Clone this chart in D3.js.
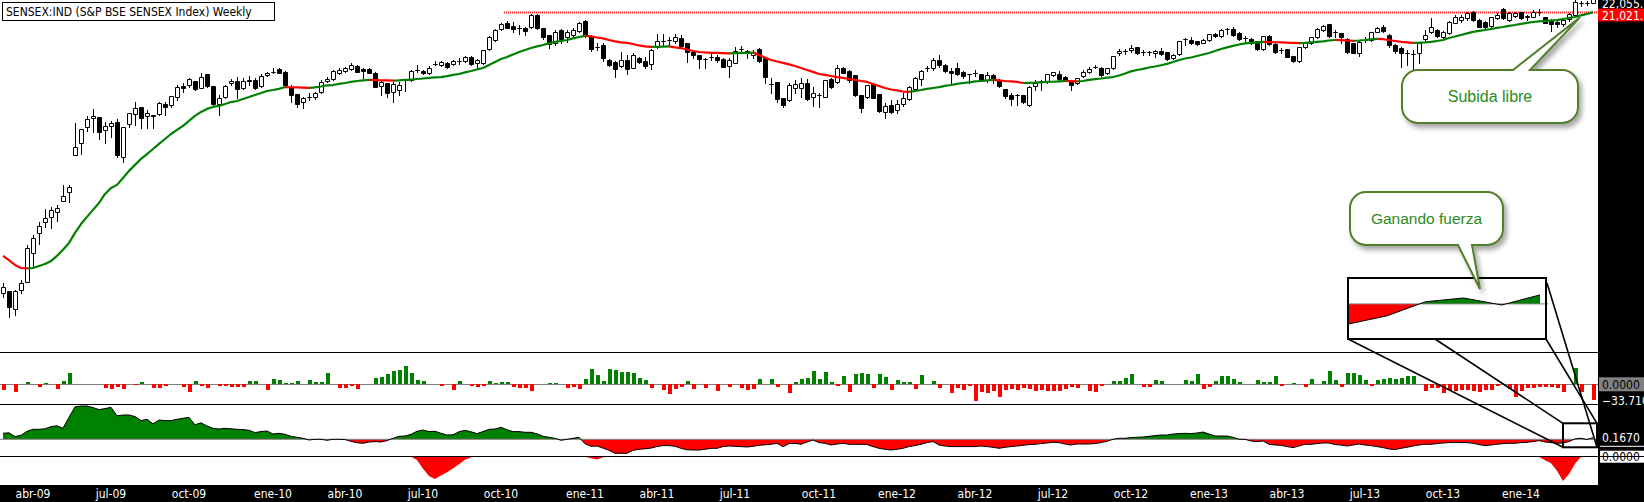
<!DOCTYPE html>
<html>
<head>
<meta charset="utf-8">
<script src="https://cdn.jsdelivr.net/npm/d3@7"></script>
<style>
  html, body { margin: 0; padding: 0; background: #fff; }
  svg { display: block; }
  .lbl { font-family: "DejaVu Sans Condensed", "DejaVu Sans", sans-serif; font-size: 12px; }
  .note { font-family: "Liberation Sans", Arial, sans-serif; }
</style>
</head>
<body>
<svg id="chart" width="1644" height="502"></svg>
<script>
// Weekly bars, index 0 = first week on the chart (late Feb 2009)
const openP = [
  8350, 8400, 7920, 8430, 8660, 9520, 10170, 10540, 10720, 10900,
  11300, 11640, 13140, 13670, 14410, 14840, 14890, 14270, 14460, 14650,
  13060, 14550, 15040, 15390, 14940, 14990, 15040, 15540, 15490, 15900,
  16490, 16540, 16760, 16380, 17150, 16490, 15540, 15900, 16650, 16760,
  16380, 16820, 16820, 16490, 17100, 17270, 17440, 17270, 16430, 16060,
  15640, 15900, 15900, 16170, 16760, 16870, 17210, 17320, 17440, 17610,
  17440, 17440, 17210, 16490, 16650, 16170, 16270, 16820, 16820, 17380,
  17320, 17210, 17730, 17670, 17790, 17730, 17900, 17900, 18140, 17790,
  17790, 18620, 19180, 19890, 20290, 20090, 19960, 19960, 20020, 20830,
  19960, 19500, 19000, 19820, 19370, 19500, 19760, 20420, 19440, 18750,
  18870, 17960, 17840, 17610, 17960, 17490, 18080, 17900, 17730, 18750,
  19120, 19180, 19120, 19310, 19000, 18440, 18260, 18020, 18140, 18140,
  18020, 17610, 17790, 18620, 18500, 18260, 18620, 18080, 16600, 16710,
  15850, 15750, 16380, 16380, 16650, 15900, 16010, 15900, 16870, 16710,
  17490, 17320, 17100, 16010, 15900, 16600, 16060, 15140, 15490, 15240,
  15540, 15800, 16330, 16870, 17490, 17490, 17960, 17670, 17320, 17490,
  17270, 17150, 17210, 17150, 16820, 17100, 16820, 16330, 16010, 16010,
  16010, 15490, 16490, 16760, 16760, 17100, 17150, 16980, 16760, 16650,
  17040, 17270, 17550, 17490, 17210, 17490, 18380, 18500, 18560, 18750,
  18440, 18440, 18380, 18500, 18440, 18080, 18320, 19250, 19180, 19120,
  19000, 19180, 19570, 19440, 19890, 19890, 19630, 19310, 19250, 19120,
  18620, 19440, 18930, 18560, 18620, 18200, 17900, 18750, 19000, 19370,
  19820, 20220, 19700, 19630, 19250, 19000, 18380, 19180, 19180, 19700,
  20020, 19500, 18870, 18680, 18380, 18320, 18380, 19250, 19700, 19820,
  19370, 19630, 20290, 20480, 20620, 21030, 20480, 20350, 20090, 20620,
  21240, 20480, 20760, 21030, 20690, 20690, 21030, 20690, 20480, 20350,
  20220, 20550, 20830, 21670, 21670, 21670
];
const highP = [
  8630, 8400, 8430, 8710, 9780, 10100, 10540, 11000, 11080, 11150,
  11910, 11910, 14600, 14320, 14940, 15290, 14900, 14650, 14700, 14790,
  14420, 15100, 15640, 15400, 15240, 15000, 15640, 15640, 15970, 16540,
  16650, 16930, 16770, 17210, 17160, 16500, 16010, 16540, 16870, 16980,
  16930, 17040, 16930, 17150, 17270, 17490, 17490, 17320, 16540, 16070,
  15900, 16110, 16170, 16820, 16980, 17380, 17490, 17550, 17790, 17670,
  17490, 17490, 17270, 16820, 16660, 16710, 16710, 16830, 17380, 17670,
  17380, 17610, 17900, 17900, 17840, 17960, 18080, 18200, 18200, 18020,
  18570, 19440, 19890, 20290, 20420, 20350, 20150, 20020, 20900, 20900,
  19970, 19510, 19820, 19890, 19820, 19960, 20350, 20480, 19500, 19000,
  19000, 18020, 17900, 18440, 18260, 18380, 18140, 18140, 18620, 19570,
  19570, 19370, 19570, 19500, 19010, 18450, 18270, 18080, 18380, 18260,
  18080, 18080, 18750, 18810, 18560, 18560, 18680, 18140, 16930, 16720,
  15860, 16650, 16820, 16930, 16870, 16430, 16110, 16830, 16930, 17670,
  17550, 17380, 17110, 16020, 16550, 16650, 16070, 15590, 15750, 15750,
  16110, 16490, 16980, 17380, 17610, 18080, 18260, 17730, 17490, 17790,
  17320, 17160, 17380, 17160, 17270, 17150, 16870, 16340, 16110, 16060,
  16020, 16490, 16820, 16820, 17160, 17280, 17320, 17040, 16770, 16940,
  17380, 17550, 17670, 17550, 17500, 18210, 18620, 18620, 18870, 18760,
  18560, 18500, 18560, 18680, 18450, 18320, 19130, 19310, 19370, 19130,
  19250, 19580, 19630, 19890, 19960, 20020, 19700, 19440, 19310, 19130,
  19450, 19500, 19000, 18680, 18630, 18210, 18760, 19070, 19380, 19960,
  20150, 20230, 19820, 19640, 19310, 19010, 19180, 19370, 19710, 20020,
  20150, 19570, 18930, 18750, 18560, 18560, 19060, 19820, 20620, 19890,
  19760, 20420, 20830, 20830, 21030, 21100, 20550, 20420, 20700, 20960,
  21310, 21030, 21030, 21040, 20830, 21170, 21240, 20700, 20550, 20420,
  20550, 20960, 21880, 21810, 21810, 22100
];
const lowP = [
  8240, 7720, 7770, 8350, 8650, 9090, 9810, 10370, 10340, 10580,
  11290, 11260, 13130, 13180, 14220, 14170, 13850, 13670, 13940, 13060,
  12840, 14410, 14500, 14360, 14360, 14360, 14990, 14990, 15390, 15750,
  16170, 16430, 16270, 16370, 16430, 15490, 14990, 15850, 16540, 15850,
  16330, 16540, 16330, 16430, 17040, 17210, 17200, 16490, 15640, 15390,
  15340, 15750, 15800, 16110, 16710, 16820, 17150, 17270, 17380, 17260,
  16930, 17200, 16420, 16010, 15900, 15640, 16010, 16220, 16760, 17270,
  17150, 17150, 17670, 17610, 17490, 17670, 17730, 17840, 17670, 17490,
  17730, 18560, 19120, 19820, 19950, 19700, 19570, 19500, 19960, 19890,
  19250, 18680, 18870, 19000, 19060, 19440, 19700, 19370, 18500, 18560,
  17900, 17610, 16980, 17550, 17150, 17480, 17790, 17490, 17440, 18680,
  18870, 18870, 19000, 18750, 17840, 18080, 17490, 17490, 17960, 17840,
  17540, 16980, 17780, 18380, 18080, 18080, 17840, 16650, 16110, 15640,
  15390, 15690, 16110, 15900, 15750, 15440, 15390, 15890, 16380, 16650,
  17200, 16710, 15960, 15140, 15850, 15840, 15140, 14840, 15090, 15090,
  15440, 15750, 16270, 16540, 17320, 17380, 17550, 17270, 16650, 17100,
  16930, 16650, 17040, 16760, 16710, 16650, 16430, 15850, 15490, 15490,
  15590, 15440, 16270, 16270, 16650, 17040, 16820, 16760, 16270, 16600,
  16980, 17210, 17490, 17040, 17150, 17440, 18260, 18320, 18440, 18320,
  18260, 18260, 18140, 18260, 17960, 18020, 18260, 18870, 18930, 18870,
  18990, 19120, 19370, 19370, 19570, 19440, 19180, 19120, 18930, 18560,
  18560, 18870, 18380, 18380, 18130, 17840, 17840, 18680, 18930, 19310,
  19760, 19370, 19370, 19000, 18380, 18370, 18200, 19060, 19120, 19690,
  19700, 18750, 18380, 17550, 17670, 17270, 17790, 19060, 19630, 19370,
  19310, 19570, 20280, 20350, 20480, 20420, 20010, 19960, 20020, 20550,
  20550, 20420, 20690, 20550, 20480, 20680, 20830, 20280, 19760, 20020,
  20090, 20420, 20760, 21450, 21530, 21660
];
const closeP = [
  8520, 7970, 8400, 8630, 9680, 10000, 10410, 10680, 10970, 11040,
  11480, 11830, 13490, 14310, 14790, 14940, 14170, 14460, 14600, 13140,
  14410, 15090, 15340, 14840, 15090, 14940, 15590, 15390, 15960, 16430,
  16380, 16870, 16330, 16980, 16490, 15540, 15850, 16490, 16760, 16330,
  16760, 16760, 16380, 17040, 17210, 17280, 17210, 16540, 16010, 15540,
  15850, 15910, 16110, 16710, 16870, 17320, 17380, 17490, 17670, 17270,
  17320, 17210, 16430, 16710, 16110, 16600, 16540, 16830, 17320, 17390,
  17210, 17490, 17740, 17840, 17550, 17900, 17890, 18140, 17730, 17960,
  18560, 19370, 19820, 20220, 19960, 19890, 19950, 19760, 20830, 19960,
  19370, 18930, 19700, 19250, 19700, 19820, 20290, 19440, 18620, 18740,
  18080, 17670, 17440, 17960, 17440, 18260, 17840, 17610, 18560, 19120,
  19110, 19190, 19370, 18810, 18440, 18260, 18020, 18010, 18150, 17960,
  17550, 17960, 18500, 18630, 18380, 18440, 17900, 16980, 16590, 15800,
  15490, 16540, 16600, 16650, 15800, 16110, 16000, 16820, 16430, 17490,
  17210, 16820, 16010, 15340, 16540, 15850, 15190, 15440, 15140, 15540,
  15850, 16430, 16930, 17320, 17500, 17960, 17670, 17320, 17210, 17150,
  17040, 17140, 17200, 16820, 17100, 16820, 16490, 15960, 15800, 16000,
  15640, 16430, 16650, 16770, 17150, 17270, 16870, 16820, 16540, 16930,
  17270, 17440, 17560, 17100, 17490, 18200, 18500, 18510, 18680, 18380,
  18450, 18430, 18500, 18320, 18020, 18260, 19120, 19260, 19000, 18930,
  19180, 19570, 19440, 19820, 19880, 19500, 19250, 19300, 19000, 18620,
  19440, 18930, 18440, 18550, 18140, 17900, 18750, 19060, 19370, 19890,
  20090, 19440, 19690, 19370, 18440, 18380, 19060, 19170, 19700, 19960,
  19760, 18870, 18500, 18380, 18370, 18330, 19000, 19500, 20020, 19440,
  19700, 20350, 20690, 20690, 20960, 20480, 20020, 20020, 20690, 20830,
  20620, 20960, 20960, 20620, 20760, 21030, 21040, 20290, 20220, 20220,
  20480, 20900, 21740, 21680, 21660, 22055
];
// moving average drawn over the candles
const maLine = [
  9430, 9300, 9150, 9060, 9050, 9060, 9120, 9180, 9270, 9430,
  9620, 9840, 10170, 10470, 10720, 10970, 11220, 11560, 11790, 11910,
  12180, 12470, 12720, 12970, 13180, 13400, 13630, 13850, 14080, 14270,
  14460, 14700, 14940, 15140, 15290, 15390, 15440, 15540, 15640, 15690,
  15800, 15900, 16010, 16110, 16220, 16270, 16330, 16430, 16420, 16410,
  16400, 16390, 16410, 16460, 16520, 16540, 16600, 16650, 16710, 16760,
  16790, 16820, 16810, 16800, 16790, 16780, 16790, 16820, 16840, 16870,
  16900, 16930, 16960, 16980, 17030, 17100, 17150, 17240, 17320, 17410,
  17490, 17670, 17840, 18020, 18140, 18290, 18440, 18560, 18680, 18780,
  18870, 18970, 19060, 19120, 19180, 19280, 19370, 19440, 19410, 19340,
  19280, 19180, 19090, 19030, 19000, 18930, 18840, 18780, 18750, 18760,
  18770, 18780, 18720, 18680, 18590, 18500, 18440, 18410, 18390, 18380,
  18370, 18360, 18370, 18380, 18390, 18400, 18260, 18110, 17960, 17870,
  17790, 17700, 17610, 17490, 17380, 17270, 17150, 17100, 17040, 16980,
  16930, 16870, 16820, 16760, 16710, 16600, 16490, 16380, 16300, 16250,
  16190, 16170, 16220, 16270, 16330, 16380, 16430, 16490, 16540, 16600,
  16650, 16680, 16740, 16760, 16790, 16820, 16790, 16760, 16740, 16710,
  16650, 16660, 16670, 16690, 16710, 16720, 16740, 16760, 16750, 16740,
  16760, 16820, 16860, 16900, 16950, 16980, 17070, 17180, 17300, 17380,
  17440, 17520, 17580, 17650, 17730, 17840, 17960, 18050, 18110, 18200,
  18290, 18380, 18500, 18620, 18720, 18810, 18900, 18970, 19000, 19030,
  19060, 19050, 19040, 19030, 19010, 19000, 18990, 19000, 19030, 19060,
  19090, 19150, 19180, 19170, 19150, 19130, 19150, 19180, 19220, 19250,
  19230, 19180, 19120, 19060, 19030, 19000, 19010, 19030, 19060, 19120,
  19180, 19310, 19400, 19500, 19600, 19700, 19760, 19820, 19890, 19960,
  20020, 20090, 20150, 20220, 20290, 20350, 20390, 20420, 20450, 20480,
  20550, 20620, 20690, 20800, 20900, 21021
];
// histogram oscillator (second panel)
const histVals = [
  -11.9, 0, -15.5, 0, 5.6, 0, -4.9, 3.5, 0, -9.8,
  7.7, 24.6, 0, 0, 0, 0, 0, -8.4, -9.8, -4.9,
  -9.8, 0, -2.1, 5.6, 0, -7, -7, -2.8, 0, 0,
  -4.9, -15.5, 7, -2.8, -7, 0, -2.8, -3.5, -6.3, -4.9,
  -4.9, 7, 7, 0, -11.9, 11.2, 9.1, 3.5, 3.5, 7,
  0, 9.1, 4.9, 4.9, 24.6, 0, -8.4, -7, -2.8, -9.8,
  0, 0, 12.6, 16.2, 21.8, 28.1, 30.2, 39.3, 24.6, 9.1,
  7, 0, 0, -2.8, 0, -11.9, 7, 0, -2.8, -4.9,
  -2.8, 7, 3.5, 4.9, 4.9, -4.9, -7, -7, -14, 0,
  0, 3.5, 3.5, 0, -7, -4.9, -9.8, 11.2, 32.3, 19.7,
  7, 32.3, 30.2, 26.7, 26.7, 23.2, 14, 9.1, -7, 0,
  -11.9, -19.7, -9.8, -4.9, 7, -9.8, 0, -7, 0, -14,
  0, -4.9, 0, -7, -11.9, -9.8, 11.2, 0, 11.2, -4.9,
  0, -17.6, 5.6, 11.2, 14, 28.8, 11.2, 26.7, 5.6, -2.8,
  17.6, -15.5, 22.5, 23.9, 22.5, -7, 22.5, 15.5, -11.9, 9.1,
  5.6, 4.9, -9.8, 19.7, 0, 7, -7, 0, -17.6, -7,
  -11.9, -2.8, -35.1, -15.5, -17.6, -13.3, -26, -11.9, -9.8, -11.9,
  -8.4, -9.8, -14, -11.9, -14, -14, -14, -9.8, -4.9, -7,
  0, -14, -15.5, -2.8, 0, 7, 7, 12.6, 21.8, 0,
  -4.9, -4.9, 9.1, 7, 0, 0, 0, 9.1, 7, 21.8,
  -9.8, -4.9, 7, 17.6, 17.6, 11.2, 4.9, 0, 0, 9.1,
  4.9, 4.9, 17.6, -2.8, 0, 3.5, 0, -4.9, 11.2, 0,
  7, 28.1, 9.1, -4.9, 24.6, 23.2, 19.7, 9.1, -2.8, 9.1,
  11.2, 12.6, 11.2, 14, 17.6, 17.6, 0, -14, -7, -7,
  -17.6, -11.9, -14, -11.9, -11.9, -14, -16.9, -11.9, -11.9, -2.8,
  0, -9.8, -26, -14, -8.4, -7, -4.9, -6.3, -4.9, -7,
  -15.5, 0, 33.7, -15.5, 0, -33.71
];
// strength oscillator (third panel, filled)
const strengthVals = [
  0.6, 0.65, 0.27, 0.4, 0.8, 1.0, 1.0, 1.05, 1.27, 1.35,
  1.1, 2.2, 3.25, 3.33, 3.33, 3.17, 2.97, 3.07, 3.2, 2.35,
  2.43, 2.43, 2.27, 1.87, 2.0, 1.55, 1.93, 1.87, 1.87, 2.0,
  2.1, 2.2, 1.45, 1.65, 1.33, 1.1, 1.03, 1.1, 1.05, 1.0,
  0.97, 0.9, 0.67, 0.77, 0.83, 0.53, 0.6, 0.5, 0.3, 0.2,
  0.1, -0.07, 0, 0, -0.1, 0, 0, -0.03, -0.2, -0.35,
  -0.4, -0.27, -0.23, -0.27, -0.13, 0.1, 0.3, 0.33, 0.5, 0.8,
  0.93, 0.77, 0.8, 0.6, 0.43, 0.45, 0.75, 0.9, 0.75, 0.57,
  0.77, 1.0, 1.03, 1.2, 0.95, 0.77, 0.77, 0.7, 0.7, 0.55,
  0.3, 0.2, 0.1, -0.1, 0, 0.1, 0.2, -0.45, -0.7, -0.67,
  -0.88, -1.1, -1.4, -1.4, -1.4, -1.1, -1.0, -0.95, -0.88, -0.73,
  -0.63, -0.63, -0.7, -0.9, -1.05, -1.07, -1.07, -1.0, -0.9, -0.9,
  -0.73, -0.67, -0.7, -0.73, -0.77, -0.7, -0.6, -0.55, -0.5, -0.4,
  -0.75, -0.42, -0.4, -0.5, -0.27, -0.07, -0.33, -0.4, -0.57, -0.47,
  -0.4, -0.5, -0.5, -0.5, -0.53, -0.73, -0.9, -1.0, -1.07, -1.0,
  -0.9, -0.73, -0.63, -0.5, -0.33, -0.23, -0.57, -0.67, -0.73, -0.73,
  -0.73, -0.73, -0.73, -0.67, -0.73, -0.8, -0.9, -0.8, -0.73, -0.67,
  -0.6, -0.53, -0.5, -0.43, -0.37, -0.3, -0.33, -0.47, -0.57, -0.47,
  -0.47, -0.47, -0.43, -0.33, -0.2, 0, 0.1, 0.1, 0.17, 0.2,
  0.23, 0.3, 0.37, 0.43, 0.43, 0.53, 0.57, 0.6, 0.57, 0.63,
  0.73, 0.53, 0.33, 0.33, 0.33, 0.2, 0, 0, -0.17, -0.23,
  -0.17, -0.5, -0.57, -0.6, -0.73, -0.83, -0.67, -0.5, -0.5, -0.43,
  -0.37, -0.37, -0.53, -0.57, -0.67, -0.57, -0.47, -0.57, -0.63, -0.73,
  -0.83, -0.97, -1.03, -0.9, -0.8, -0.67, -0.57, -0.5, -0.5, -0.43,
  -0.37, -0.33, -0.3, -0.33, -0.33, -0.4, -0.53, -0.63, -0.57, -0.5,
  -0.43, -0.4, -0.4, -0.33, -0.3, -0.23, -0.13, -0.27, -0.33, -0.4,
  -0.37, -0.22, 0.04, 0.11, -0.02, 0.167
];
// bottom panel: only the weeks where it leaves zero
const breakPts = [
  [68, 0], [69, -3.3], [70, -12], [71, -19], [72, -22], [73, -18.5], [74, -15.5],
  [75, -11.7], [76, -7.5], [77, -3], [78, -0.5], [79, 0],
  [97, 0], [98, -1.5], [99, -2.7], [100, -0.5], [101, 0],
  [256, 0], [257, -3.5], [258, -6.5], [259, -14], [260, -24], [261, -17], [262, -7], [263, 0]
];
const tickLabels = ["abr-09", "jul-09", "oct-09", "ene-10", "abr-10", "jul-10", "oct-10", "ene-11",
  "abr-11", "jul-11", "oct-11", "ene-12", "abr-12", "jul-12", "oct-12", "ene-13", "abr-13",
  "jul-13", "oct-13", "ene-14"];
const tickBars = [5, 18, 31, 45, 57, 70, 83, 97, 109, 122, 136, 149, 162, 175, 188, 201, 214, 227, 240, 253];
const resistance = 21000;
const resistanceFrom = 84;
const insetFrom = 260;

const W = 1644, H = 502;
const plotRight = 1598;
const n = closeP.length;

const svg = d3.select('#chart');

// scales
const x = d3.scaleLinear().domain([0, n - 1]).range([3, 3 + 6 * (n - 1)]);
const yPrice = d3.scaleLog().domain([6873, 21878]).range([352, 0]);
const yHist = d3.scaleLinear().domain([-41.5, 68]).range([404, 352]);
const yStr = d3.scaleLinear().domain([-1.67, 3.53]).range([456, 404]);
const yBrk = d3.scaleLinear().domain([-28, 0.7]).range([485, 456]);

const breakVals = new Array(n).fill(0);
breakPts.forEach(([i, v]) => { breakVals[i] = v; });

const GREEN = '#008000', RED = '#ff0000';

const defs = svg.append('defs');
defs.append('clipPath').attr('id', 'clipMain')
  .append('rect').attr('x', 0).attr('y', 0).attr('width', plotRight).attr('height', 352);
defs.append('clipPath').attr('id', 'clipStrUp')
  .append('rect').attr('x', 0).attr('y', 404).attr('width', plotRight).attr('height', yStr(0) - 404);
defs.append('clipPath').attr('id', 'clipStrDn')
  .append('rect').attr('x', 0).attr('y', yStr(0)).attr('width', plotRight).attr('height', 456 - yStr(0));
const shadow = defs.append('filter').attr('id', 'shadow')
  .attr('x', '-20%').attr('y', '-20%').attr('width', '150%').attr('height', '150%');
shadow.append('feDropShadow').attr('dx', 3).attr('dy', 4).attr('stdDeviation', 2.5)
  .attr('flood-color', '#000').attr('flood-opacity', 0.35);

svg.append('rect').attr('width', W).attr('height', H).attr('fill', '#fff');

// ---- price panel ----
const main = svg.append('g').attr('clip-path', 'url(#clipMain)');

main.append('line')
  .attr('x1', x(resistanceFrom) - 3).attr('x2', plotRight)
  .attr('y1', yPrice(resistance)).attr('y2', yPrice(resistance))
  .attr('stroke', RED).attr('stroke-width', 2).attr('stroke-dasharray', '1 1').attr('opacity', 0.85);

const candles = main.append('g');
d3.range(n).forEach(i => {
  const cx = Math.round(x(i));
  candles.append('line')
    .attr('x1', cx + 0.5).attr('x2', cx + 0.5)
    .attr('y1', Math.round(yPrice(highP[i]))).attr('y2', Math.round(yPrice(lowP[i])) + 1)
    .attr('stroke', '#000').attr('stroke-width', 1);
  const yo = Math.round(yPrice(openP[i])), yc = Math.round(yPrice(closeP[i]));
  const top = Math.min(yo, yc) + 0.5, h = Math.abs(yo - yc);
  candles.append('path')
    .attr('d', `M${cx - 1.5},${top}h4v${h}h-4Z`)
    .attr('fill', closeP[i] >= openP[i] ? '#fff' : '#000')
    .attr('stroke', '#000').attr('stroke-width', 1);
});

// moving average, green while rising, red while falling
const maRuns = [];
for (let i = 1; i < n; i++) {
  const up = maLine[i] >= maLine[i - 1];
  const last = maRuns[maRuns.length - 1];
  if (last && last.up === up) last.pts.push(i);
  else maRuns.push({ up: up, pts: [i - 1, i] });
}
const maPath = d3.line().x(i => x(i)).y(i => yPrice(maLine[i]));
main.append('g').selectAll('path').data(maRuns).join('path')
  .attr('d', d => maPath(d.pts))
  .attr('fill', 'none')
  .attr('stroke', d => d.up ? GREEN : RED)
  .attr('stroke-width', 2.2)
  .attr('stroke-linejoin', 'round');

// ---- histogram panel ----
svg.append('line').attr('x1', 0).attr('x2', plotRight)
  .attr('y1', Math.round(yHist(0)) + 0.5).attr('y2', Math.round(yHist(0)) + 0.5)
  .attr('stroke', '#808080');
svg.append('g').selectAll('rect').data(histVals.map((v, i) => ({ v, i })).filter(d => d.v !== 0))
  .join('rect')
  .attr('x', d => Math.round(x(d.i)) - 1.5)
  .attr('width', 4)
  .attr('y', d => Math.min(yHist(d.v), yHist(0)))
  .attr('height', d => Math.abs(yHist(d.v) - yHist(0)))
  .attr('fill', d => d.v > 0 ? GREEN : RED)
  .attr('shape-rendering', 'crispEdges');

// ---- strength panel ----
const strArea = d3.area().x((d, i) => x(i)).y0(yStr(0)).y1(d => yStr(d));
svg.append('path').datum(strengthVals).attr('d', strArea)
  .attr('fill', GREEN).attr('clip-path', 'url(#clipStrUp)');
svg.append('path').datum(strengthVals).attr('d', strArea)
  .attr('fill', RED).attr('clip-path', 'url(#clipStrDn)');
svg.append('line').attr('x1', 0).attr('x2', plotRight)
  .attr('y1', yStr(0)).attr('y2', yStr(0)).attr('stroke', '#808080');
svg.append('path').datum(strengthVals)
  .attr('d', d3.line().x((d, i) => x(i)).y(d => yStr(d)))
  .attr('fill', 'none').attr('stroke', '#000').attr('stroke-width', 1);

// ---- bottom panel ----
svg.append('path').datum(breakVals)
  .attr('d', d3.area().x((d, i) => x(i)).y0(yBrk(0)).y1(d => yBrk(d)))
  .attr('fill', RED);

// panel separators
[352, 404, 456].forEach(y => {
  svg.append('line').attr('x1', 0).attr('x2', plotRight)
    .attr('y1', y + 0.5).attr('y2', y + 0.5).attr('stroke', '#000');
});

// ---- zoom box and callouts ----
const small = { x0: x(insetFrom), x1: x(n - 1) + 4, y0: yStr(0) - 16, y1: yStr(0) + 8 };
const inset = { x0: 1348, x1: 1546, y0: 278, y1: 339 };

const links = [
  [inset.x0, inset.y1, small.x0, small.y1],
  [1435, inset.y1, small.x0, small.y0],
  [inset.x1, inset.y1, small.x1, small.y0],
  [inset.x1 + 1, inset.y0 + 5, small.x1, small.y1]
];
svg.append('g').selectAll('line').data(links).join('line')
  .attr('x1', d => d[0]).attr('y1', d => d[1]).attr('x2', d => d[2]).attr('y2', d => d[3])
  .attr('stroke', '#000').attr('stroke-width', 1.6);

svg.append('rect')
  .attr('x', small.x0).attr('y', small.y0)
  .attr('width', small.x1 - small.x0).attr('height', small.y1 - small.y0)
  .attr('fill', 'none').attr('stroke', '#000').attr('stroke-width', 2);

// magnified view of the last weeks of the strength oscillator
const insetX = d3.scaleLinear().domain([insetFrom, n - 1]).range([inset.x0 + 1, inset.x1 - 6]);
const insetY = d3.scaleLinear().domain([-0.65, 0.48]).range([inset.y1, inset.y0]);
const insetData = strengthVals.slice(insetFrom).map((v, k) => ({ i: insetFrom + k, v }));
defs.append('clipPath').attr('id', 'clipInUp').append('rect')
  .attr('x', inset.x0).attr('y', inset.y0).attr('width', inset.x1 - inset.x0).attr('height', insetY(0) - inset.y0);
defs.append('clipPath').attr('id', 'clipInDn').append('rect')
  .attr('x', inset.x0).attr('y', insetY(0)).attr('width', inset.x1 - inset.x0).attr('height', inset.y1 - insetY(0));
svg.append('rect')
  .attr('x', inset.x0).attr('y', inset.y0)
  .attr('width', inset.x1 - inset.x0).attr('height', inset.y1 - inset.y0)
  .attr('fill', '#fff');
const inArea = d3.area().x(d => insetX(d.i)).y0(insetY(0)).y1(d => insetY(d.v));
svg.append('path').datum(insetData).attr('d', inArea).attr('fill', GREEN).attr('clip-path', 'url(#clipInUp)');
svg.append('path').datum(insetData).attr('d', inArea).attr('fill', RED).attr('clip-path', 'url(#clipInDn)');
svg.append('line').attr('x1', inset.x0).attr('x2', inset.x1 + 2)
  .attr('y1', insetY(0)).attr('y2', insetY(0)).attr('stroke', '#808080');
svg.append('path').datum(insetData)
  .attr('d', d3.line().x(d => insetX(d.i)).y(d => insetY(d.v)))
  .attr('fill', 'none').attr('stroke', '#000').attr('stroke-width', 1);
svg.append('rect')
  .attr('x', inset.x0).attr('y', inset.y0)
  .attr('width', inset.x1 - inset.x0).attr('height', inset.y1 - inset.y0)
  .attr('fill', 'none').attr('stroke', '#000').attr('stroke-width', 2);

function bubble(b) {
  const r = 16, { x0, y0, x1, y1 } = b;
  let p = `M${x0 + r},${y0}`;
  if (b.tailTop) p += `L${b.tailTop[0]},${y0}L${b.tip[0]},${b.tip[1]}L${b.tailTop[1]},${y0}`;
  p += `L${x1 - r},${y0}A${r},${r} 0 0 1 ${x1},${y0 + r}L${x1},${y1 - r}A${r},${r} 0 0 1 ${x1 - r},${y1}`;
  if (b.tailBottom) p += `L${b.tailBottom[0]},${y1}L${b.tip[0]},${b.tip[1]}L${b.tailBottom[1]},${y1}`;
  p += `L${x0 + r},${y1}A${r},${r} 0 0 1 ${x0},${y1 - r}L${x0},${y0 + r}A${r},${r} 0 0 1 ${x0 + r},${y0}Z`;
  svg.append('path').attr('d', p)
    .attr('fill', '#fff').attr('stroke', '#527f2a').attr('stroke-width', 2)
    .attr('filter', 'url(#shadow)');
  svg.append('text').attr('class', 'note')
    .attr('x', (x0 + x1) / 2).attr('y', (y0 + y1) / 2 + 5.5)
    .attr('text-anchor', 'middle').attr('font-size', b.size)
    .attr('fill', '#2a8a24').text(b.text);
}
bubble({ x0: 1402, y0: 70, x1: 1578, y1: 123, tailTop: [1513, 1530],
  tip: [x(n - 3) - 1, yPrice(maLine[n - 3]) + 2], text: 'Subida libre', size: 16 });
bubble({ x0: 1350, y0: 192, x1: 1503, y1: 245, tailBottom: [1472, 1458],
  tip: [1480, 289], text: 'Ganando fuerza', size: 15.5 });

// ---- frame: right value axis and bottom date axis ----
svg.append('rect').attr('x', plotRight).attr('y', 0).attr('width', W - plotRight).attr('height', H).attr('fill', '#000');
svg.append('rect').attr('x', 0).attr('y', 485).attr('width', W).attr('height', H - 485).attr('fill', '#000');

svg.append('g').selectAll('text').data(tickLabels).join('text')
  .attr('class', 'lbl')
  .attr('x', (d, k) => x(tickBars[k]))
  .attr('y', 498)
  .attr('text-anchor', 'middle')
  .attr('fill', '#fff')
  .text(d => d);

const fmtPrice = d3.format(',.0f');
const axisX = plotRight + 4;
const cClose = Math.max(yPrice(closeP[n - 1]), 3);
const cMa = Math.max(yPrice(maLine[n - 1]), cClose + 12);
svg.append('text').attr('class', 'lbl').attr('x', axisX).attr('y', cClose + 4.5)
  .attr('fill', '#fff').text(fmtPrice(closeP[n - 1]) + '.');
svg.append('rect').attr('x', plotRight).attr('y', cMa - 6.5).attr('width', W - plotRight).attr('height', 13).attr('fill', RED);
svg.append('text').attr('class', 'lbl').attr('x', axisX).attr('y', cMa + 4.5)
  .attr('fill', '#fff').text(fmtPrice(maLine[n - 1]) + '.');

const h0 = yHist(0);
svg.append('rect').attr('x', plotRight + 1).attr('y', h0 - 7).attr('width', W - plotRight).attr('height', 14).attr('fill', '#808080');
svg.append('text').attr('class', 'lbl').attr('x', axisX).attr('y', h0 + 4.5).attr('fill', '#000').text('0.0000');
svg.append('text').attr('class', 'lbl').attr('x', axisX).attr('y', yHist(histVals[n - 1]) + 4.5)
  .attr('fill', '#fff').text(d3.format('.3f')(histVals[n - 1]));

svg.append('text').attr('class', 'lbl').attr('x', axisX).attr('y', yStr(strengthVals[n - 1]) + 4.5)
  .attr('fill', '#fff').text(d3.format('.4f')(strengthVals[n - 1]));
svg.append('line').attr('x1', plotRight + 2).attr('x2', W)
  .attr('y1', yStr(0) + 7).attr('y2', yStr(0) + 7).attr('stroke', '#fff');

const b0 = yBrk(0);
svg.append('rect').attr('x', plotRight + 2).attr('y', b0 - 6).attr('width', W - plotRight).attr('height', 12).attr('fill', '#fff');
svg.append('text').attr('class', 'lbl').attr('x', axisX).attr('y', b0 + 4.5).attr('fill', '#000').text('0.0000');
svg.append('line').attr('x1', plotRight).attr('x2', W).attr('y1', 456.5).attr('y2', 456.5).attr('stroke', '#000');

// ---- title box ----
svg.append('rect').attr('x', 2.5).attr('y', 2.5).attr('width', 272).attr('height', 18)
  .attr('fill', '#fff').attr('stroke', '#000');
svg.append('text').attr('class', 'lbl').attr('x', 6).attr('y', 16)
  .attr('fill', '#000').text('SENSEX:IND (S&P BSE SENSEX Index) Weekly');
</script>
</body>
</html>
